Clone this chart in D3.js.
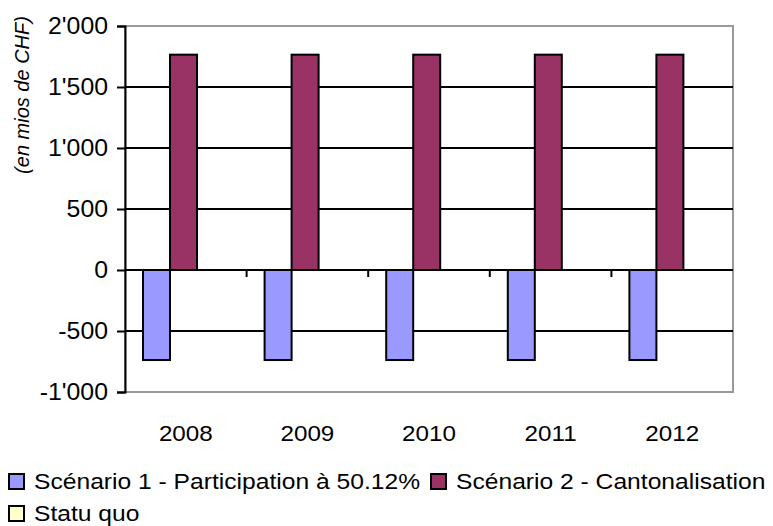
<!DOCTYPE html>
<html>
<head>
<meta charset="utf-8">
<script src="https://cdn.jsdelivr.net/npm/d3@7"></script>
<style>
  body { margin: 0; background: #fff; }
  text { font-family: "Liberation Sans", Arial, sans-serif; fill: #000; }
</style>
</head>
<body>
<div id="chart-area"></div>
<script>
var width = 773;
var height = 526;
var margin = {top: 26, right: 40, bottom: 134, left: 125};

// data
var years = ["2008", "2009", "2010", "2011", "2012"];
var seriesNames = ["Scénario 1 - Participation à 50.12%", "Scénario 2 - Cantonalisation", "Statu quo"];
var scenario1 = [-738, -738, -738, -738, -738];
var scenario2 = [1765, 1765, 1765, 1765, 1765];
var statuQuo = [0, 0, 0, 0, 0];
var yTicks = [-1000, -500, 0, 500, 1000, 1500, 2000];
var colors = ["#9999ff", "#993366", "#ffffcc"];

var innerW = width - margin.left - margin.right;
var innerH = 392 - margin.top;
var groupW = 81;

var svg = d3.select("#chart-area").append("svg")
	.attr("width", width)
	.attr("height", height);

var g = svg.append("g")
	.attr("transform", "translate(" + margin.left + ", " + margin.top + ")");

var x0 = d3.scaleBand()
	.domain(years)
	.range([0, innerW]);

var x1 = d3.scaleBand()
	.domain(seriesNames)
	.range([0, groupW]);

var y = d3.scaleLinear()
	.domain([-1000, 2000])
	.range([innerH, 0]);

var fmt = function(v) { return d3.format(",")(v).replace(/,/g, "'").replace("−", "-"); };

// plot border (grey)
g.append("rect")
	.attr("x", 0).attr("y", 0)
	.attr("width", innerW).attr("height", innerH)
	.attr("fill", "none")
	.attr("stroke", "#999")
	.attr("stroke-width", 2);

// gridlines
g.selectAll(".grid")
	.data(yTicks.filter(function(d) { return d > -1000 && d < 2000; }))
	.enter().append("line")
	.attr("class", "grid")
	.attr("x1", 0).attr("x2", innerW)
	.attr("y1", function(d) { return y(d); })
	.attr("y2", function(d) { return y(d); })
	.attr("stroke", "#000")
	.attr("stroke-width", 2);

// bars
var rows = years.map(function(yr, i) {
	return {year: yr, values: [scenario1[i], scenario2[i], statuQuo[i]]};
});

var groups = g.selectAll(".year")
	.data(rows)
	.enter().append("g")
	.attr("class", "year")
	.attr("transform", function(d) {
		return "translate(" + (x0(d.year) + 18) + ",0)";
	});

groups.selectAll("rect")
	.data(function(d) { return d.values.map(function(v, j) { return {name: seriesNames[j], value: v, j: j}; }); })
	.enter().append("rect")
	.filter(function(d) { return d.value !== 0; })
	.attr("x", function(d) { return x1(d.name); })
	.attr("width", x1.bandwidth())
	.attr("y", function(d) { return y(Math.max(0, d.value)); })
	.attr("height", function(d) { return Math.abs(y(d.value) - y(0)); })
	.attr("fill", function(d) { return colors[d.j]; })
	.attr("stroke", "#000")
	.attr("stroke-width", 2);

// x axis at zero, ticks down
var xAxisG = g.append("g")
	.attr("transform", "translate(0," + y(0) + ")");
xAxisG.append("line")
	.attr("x1", 0).attr("x2", innerW)
	.attr("stroke", "#000").attr("stroke-width", 2);
xAxisG.selectAll(".xt")
	.data(years.slice(1))
	.enter().append("line")
	.attr("x1", function(d) { return x0(d); })
	.attr("x2", function(d) { return x0(d); })
	.attr("y1", 0).attr("y2", 7)
	.attr("stroke", "#000").attr("stroke-width", 2);

// year labels under plot
g.selectAll(".xlab")
	.data(years)
	.enter().append("text")
	.attr("class", "xlab")
	.attr("transform", function(d) {
		return "translate(" + (x0(d) + x0.bandwidth() / 2) + "," + (innerH + 49) + ") scale(1.1,1)";
	})
	.attr("text-anchor", "middle")
	.attr("font-size", "22px")
	.text(function(d) { return d; });

// left axis
var leftAxis = d3.axisLeft(y)
	.tickValues(yTicks)
	.tickSize(8)
	.tickPadding(8)
	.tickFormat(fmt);
var yAxisG = g.append("g")
	.attr("class", "leftAxis")
	.call(leftAxis);
yAxisG.select(".domain").attr("stroke", "#000").attr("stroke-width", 2);
yAxisG.selectAll(".tick line").attr("stroke", "#000").attr("stroke-width", 2);
yAxisG.selectAll(".tick text")
	.attr("font-size", "23px")
	.attr("fill", "#000")
	.attr("x", null)
	.attr("transform", "translate(-17,0) scale(1.08,1)");

// y axis title
svg.append("text")
	.attr("transform", "translate(29,95) rotate(-90)")
	.attr("text-anchor", "middle")
	.attr("font-size", "20px")
	.attr("font-style", "italic")
	.text("(en mios de CHF)");

// legend
var legendPos = [[8, 481], [430, 481], [8, 513]];
var legend = svg.selectAll(".legend")
	.data(seriesNames)
	.enter().append("g")
	.attr("class", "legend")
	.attr("transform", function(d, i) { return "translate(" + legendPos[i][0] + "," + legendPos[i][1] + ")"; });
legend.append("rect")
	.attr("x", 1).attr("y", -7)
	.attr("width", 15).attr("height", 15)
	.attr("fill", function(d, i) { return colors[i]; })
	.attr("stroke", "#000")
	.attr("stroke-width", 2);
legend.append("text")
	.attr("transform", "translate(26,8) scale(1.12,1)")
	.attr("font-size", "22px")
	.text(function(d) { return d; });
</script>
</body>
</html>
